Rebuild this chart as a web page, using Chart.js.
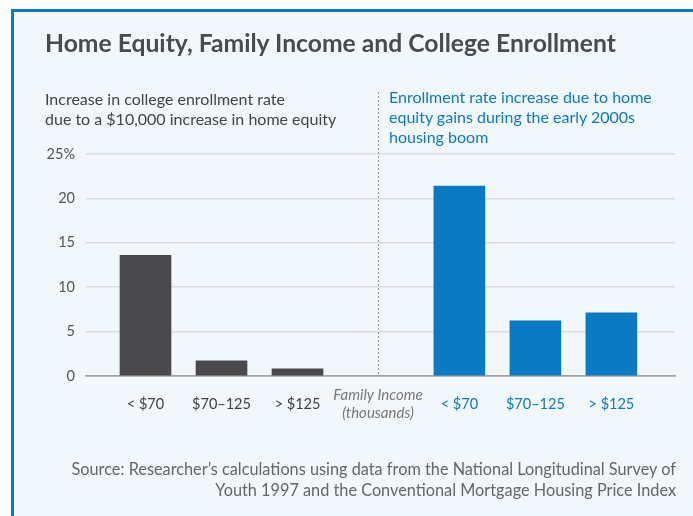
<!DOCTYPE html>
<html lang="en">
  <head>
    <meta charset="UTF-8" />
    <title>Home Equity, Family Income and College Enrollment</title>
    <style>
      html, body { margin: 0; padding: 0; background: #ffffff; }
      body { width: 693px; height: 516px; position: relative; overflow: hidden; font-family: Lato, "Open Sans", sans-serif; }
      .frame { position: absolute; left: 11px; top: 9px; width: 700px; height: 520px; border-top: 3px solid #0a7bc3; border-left: 3px solid #0a7bc3; background: #f2f7fb; }
      #chart { position: absolute; left: 0; top: 0; }
      .txt { position: absolute; white-space: nowrap; }
      .title { left: 45px; top: 28px; font-size: 24.7px; line-height: 30px; font-weight: 700; color: #4b4b4d; }
      .sub-left { left: 45px; top: 89px; font-size: 16px; line-height: 20px; color: #444; }
      .sub-right { left: 389px; top: 87px; font-size: 16px; line-height: 20px; color: #0a7bc3; }
      .source { right: 17px; top: 459px; font-size: 16.3px; line-height: 20.7px; color: #666; text-align: right; }
    </style>
  </head>
  <body>
    <div class="frame"></div>
    <canvas id="chart" width="693" height="516"></canvas>
    <div class="txt title">Home Equity, Family Income and College Enrollment</div>
    <div class="txt sub-left">Increase in college enrollment rate<br />due to a $10,000 increase in home equity</div>
    <div class="txt sub-right">Enrollment rate increase due to home<br />equity gains during the early 2000s<br />housing boom</div>
    <div class="txt source">Source: Researcher’s calculations using data from the National Longitudinal Survey of<br />Youth 1997 and the Conventional Mortgage Housing Price Index</div>

    <script src="https://cdn.jsdelivr.net/npm/chart.js@4.4.0/dist/chart.umd.min.js"></script>
    <script>
      // income groups (thousands of dollars)
      const incomeGroups = ["< $70", "$70–125", "> $125"];
      const axisNote = ["Family Income", "(thousands)"];

      // percentage points per $10,000 of home equity
      const perTenThousand = [13.6, 1.7, 0.8];
      // percentage points from the early 2000s boom
      const boomIncrease = [21.4, 6.2, 7.1];

      const yTicks = [0, 5, 10, 15, 20, 25];

      // the right group sits a bit further out than one slot
      const rightStart = 4.13;
      const notePos = 3.06;

      const leftPoints = perTenThousand.map((v, i) => ({ x: i, y: v }));
      const rightPoints = boomIncrease.map((v, i) => ({ x: rightStart + i, y: v }));
      const tickPos = [0, 1, 2, notePos, rightStart, rightStart + 1, rightStart + 2];
      const tickText = incomeGroups.concat([axisNote], incomeGroups);

      const darkGrey = "#4a4a4c";
      const blue = "#0a7bc3";

      // dotted separator between the two panels
      const divider = {
        id: "divider",
        beforeDatasetsDraw(chart) {
          const x = Math.round(chart.scales.x.getPixelForValue(notePos)) + 0.5;
          const ctx = chart.ctx;
          ctx.save();
          ctx.strokeStyle = "#9a9a9a";
          ctx.lineWidth = 1;
          ctx.setLineDash([2, 2]);
          ctx.beginPath();
          ctx.moveTo(x, 92);
          ctx.lineTo(x, chart.chartArea.bottom);
          ctx.stroke();
          ctx.restore();
        }
      };

      new Chart(document.getElementById("chart"), {
        type: "bar",
        data: {
          datasets: [
            { data: leftPoints, backgroundColor: darkGrey },
            { data: rightPoints, backgroundColor: blue }
          ]
        },
        options: {
          responsive: false,
          animation: false,
          layout: { padding: { left: 0, right: 18, top: 154, bottom: 80 } },
          datasets: { bar: { grouped: false, barThickness: 51 } },
          plugins: { legend: { display: false }, tooltip: { enabled: false } },
          scales: {
            x: {
              type: "linear",
              offset: false,
              min: -0.783,
              max: 6.967,
              afterBuildTicks: (scale) => { scale.ticks = tickPos.map((v) => ({ value: v })); },
              afterFit: (scale) => { scale.height = 60; },
              grid: { display: false, offset: false },
              border: { display: true, color: "#a3a3a3", width: 1.5 },
              ticks: {
                autoSkip: false,
                maxRotation: 0,
                padding: 11,
                crossAlign: "center",
                callback: (value, index) => tickText[index],
                color: (ctx) => (ctx.index < 3 ? "#3f3f3f" : ctx.index === 3 ? "#777" : blue),
                font: (ctx) => ({ family: "Lato", size: ctx.index === 3 ? 15 : 14.5, style: ctx.index === 3 ? "italic" : "normal" })
              }
            },
            y: {
              min: 0,
              max: 25,
              afterBuildTicks: (scale) => { scale.ticks = yTicks.map((v) => ({ value: v })); },
              afterFit: (scale) => { scale.width = 86; },
              grid: {
                drawTicks: false,
                lineWidth: 1.5,
                color: (ctx) => (ctx.tick && ctx.tick.value === 0 ? "#a3a3a3" : "#d9dde2")
              },
              border: { display: false },
              ticks: {
                padding: 11,
                color: "#555",
                font: { family: "Lato", size: 14.5 },
                callback: (value) => (value === 25 ? value + "%" : value)
              }
            }
          }
        },
        plugins: [divider]
      });
    </script>
  </body>
</html>
